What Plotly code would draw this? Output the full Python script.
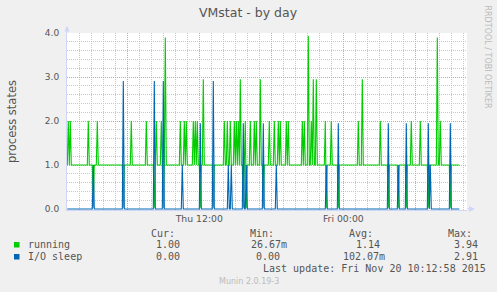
import plotly.graph_objects as go
import pandas as pd

# ---------------- data ----------------
series_names = ["running", "I/O sleep"]
series_colors = ["#00CC00", "#0066B3"]

n_samples = 393                      # 5-minute samples shown
sample_start = "2015-11-19 01:00:00"
sample_step_min = 5

running_base = 1.0
running_idx = [1, 3, 21, 26, 30, 56, 64, 79, 87, 89, 94, 96, 98, 113, 117, 119,
               126, 128, 130, 133, 136, 146, 157, 160, 163, 167, 169, 171, 173,
               176, 178, 179, 183, 187, 189, 193, 196, 202, 207, 211, 213, 219,
               221, 235, 237, 241, 244, 246, 249, 258, 259, 264, 271, 291, 295,
               313, 321, 331, 339, 344, 353, 361, 370, 373, 383]
running_val = [2.0, 2.0, 2.0, 0.03, 2.0, 0.03, 2.0, 2.0, 0.03, 2.0, 2.0, 0.03, 3.9, 2.0, 2.0, 2.0,
               2.0, 2.0, 2.0, 0.03, 2.95, 0.03, 2.0, 2.0, 2.0, 2.0, 2.0, 2.0, 2.95,
               0.03, 2.0, 0.03, 2.0, 2.0, 2.0, 2.95, 0.03, 2.0, 2.0, 2.0, 2.0, 2.0,
               2.0, 2.0, 2.0, 3.94, 2.0, 2.95, 2.95, 2.0, 0.03, 2.0, 0.03, 2.0, 2.95,
               2.0, 0.03, 0.03, 0.03, 2.0, 2.0, 0.03, 3.9, 2.0, 0.03]

iosleep_base = 0.0
iosleep_idx = [26, 56, 87, 96, 115, 133, 146, 161, 164, 176, 179, 196, 209,
               259, 271, 321, 331, 339, 361, 363, 383]
iosleep_val = [1.0, 2.91, 2.91, 2.91, 1.0, 1.95, 2.91, 1.0, 1.0, 1.95, 1.0, 1.95, 1.0,
               1.0, 1.95, 1.95, 1.0, 1.95, 1.95, 1.0, 1.95]

x_range = ["2015-11-19 00:58:30", "2015-11-20 10:18:30"]
x_major_ticks = ["2015-11-19 06:00", "2015-11-19 12:00", "2015-11-19 18:00",
                 "2015-11-20 00:00", "2015-11-20 06:00"]
x_major_text = ["", "Thu 12:00", "", "Fri 00:00", ""]
y_ticks = [0, 1, 2, 3, 4]
y_tick_text = ["0.0", "1.0", "2.0", "3.0", "4.0"]

legend_headers = ["Cur:", "Min:", "Avg:", "Max:"]
legend_running = ["1.00", "26.67m", "1.14", "3.94"]
legend_iosleep = ["0.00", "0.00", "102.07m", "2.91"]
last_update = "Last update: Fri Nov 20 10:12:58 2015"
title = "VMstat - by day"
y_title = "process states"
watermark = "RRDTOOL / TOBI OETIKER"
footer = "Munin 2.0.19-3"

# ---------------- build series ----------------
times = pd.date_range(sample_start, periods=n_samples, freq=f"{sample_step_min}min")
running = [running_base] * n_samples
for i, v in zip(running_idx, running_val):
    running[i] = v
iosleep = [iosleep_base] * n_samples
for i, v in zip(iosleep_idx, iosleep_val):
    iosleep[i] = v

# ---------------- figure ----------------
W, H = 497, 292
L, R, T, B = 67, 30, 33, 82
PW, PH = W - L - R, H - T - B

def px(x):
    return (x - L) / PW

def py(y):
    return (H - B - y) / PH

FONT = "DejaVu Sans"
MONO = "DejaVu Sans Mono"
TXT = "#555555"
AXIS = "#CFD6F8"
MAJ = "rgb(236,150,150)"
MIN = "rgb(200,200,200)"

fig = go.Figure()
for name, color, ys in zip(series_names, series_colors, [running, iosleep]):
    fig.add_trace(go.Scatter(x=times, y=ys, mode="lines", name=name,
                             line=dict(color=color, width=1.1),
                             hoverinfo="skip", showlegend=False))

fig.update_layout(
    width=W, height=H,
    margin=dict(l=L, r=R, t=T, b=B, pad=0),
    paper_bgcolor="#F0F0F0", plot_bgcolor="#FFFFFF",
    showlegend=False,
    xaxis=dict(type="date", range=x_range, tickmode="array",
               tickvals=x_major_ticks, ticktext=x_major_text,
               showgrid=True, gridcolor=MAJ, griddash="1px,1px", gridwidth=1,
               minor=dict(tickmode="linear", tick0="2015-11-19 01:00", dtick=3600000,
                          showgrid=True, gridcolor=MIN, griddash="1px,1px", gridwidth=1,
                          ticks=""),
               showline=True, linecolor=AXIS, linewidth=1, ticks="",
               zeroline=False,
               tickfont=dict(family=FONT, size=9.3, color=TXT)),
    yaxis=dict(range=[-1 / 44, 4.0], tickmode="array", tickvals=y_ticks,
               ticktext=y_tick_text,
               showgrid=True, gridcolor=MAJ, griddash="1px,1px", gridwidth=1,
               minor=dict(tickmode="linear", tick0=0, dtick=0.2,
                          showgrid=True, gridcolor=MIN, griddash="1px,1px", gridwidth=1,
                          ticks=""),
               showline=True, linecolor=AXIS, linewidth=1, ticks="",
               zeroline=False, ticklabelstandoff=5,
               tickfont=dict(family=FONT, size=9, color=TXT)),
)

shapes = []
# axis arrows
shapes.append(dict(type="line", xref="paper", yref="paper",
                   x0=px(67), x1=px(67), y0=py(33), y1=py(27),
                   line=dict(color=AXIS, width=1)))
shapes.append(dict(type="path", xref="paper", yref="paper",
                   path=f"M {px(64.5)},{py(31.5)} L {px(67)},{py(26)} L {px(69.5)},{py(31.5)} Z",
                   fillcolor=AXIS, line=dict(width=0)))
shapes.append(dict(type="line", xref="paper", yref="paper",
                   x0=px(467), x1=px(470), y0=py(209), y1=py(209),
                   line=dict(color=AXIS, width=1)))
shapes.append(dict(type="path", xref="paper", yref="paper",
                   path=f"M {px(469)},{py(206)} L {px(475)},{py(209)} L {px(469)},{py(212)} Z",
                   fillcolor=AXIS, line=dict(width=0)))
# legend swatches
for k, color in enumerate(series_colors):
    y0 = 242 + 12 * k
    shapes.append(dict(type="rect", xref="paper", yref="paper",
                       x0=px(14), x1=px(19.5), y0=py(y0), y1=py(y0 + 5.5),
                       fillcolor=color, line=dict(width=0)))
fig.update_layout(shapes=shapes)

def ann(text, x, y, size=10, family=MONO, color=TXT, xanchor="left", angle=0):
    fig.add_annotation(text=text, x=px(x), y=py(y), xref="paper", yref="paper",
                       showarrow=False, xanchor=xanchor, yanchor="middle",
                       textangle=angle, borderpad=0,
                       font=dict(family=family, size=size, color=color))

ann(title, 248, 13, size=12.5, family=FONT, xanchor="center")
ann(y_title, 12, 121, size=11.5, family=FONT, xanchor="center", angle=-90)
ann(watermark, 487.5, 57, size=8, family=FONT, color="#BBBBBB", xanchor="center", angle=90)
ann(footer, 249, 281, size=8, family=FONT, color="#BBBBBB", xanchor="center")

header_x = [150, 249, 348, 447]
run_x = [155, 250, 355, 453]
io_x = [155, 255, 342, 453]
for t, x in zip(legend_headers, header_x):
    ann(t, x, 233)
ann(series_names[0], 27, 244.7)
ann(series_names[1], 27, 256.7)
for t, x in zip(legend_running, run_x):
    ann(t, x, 244.7)
for t, x in zip(legend_iosleep, io_x):
    ann(t, x, 256.7)
ann(last_update, 262, 268.7)

fig.write_html("out.html")
